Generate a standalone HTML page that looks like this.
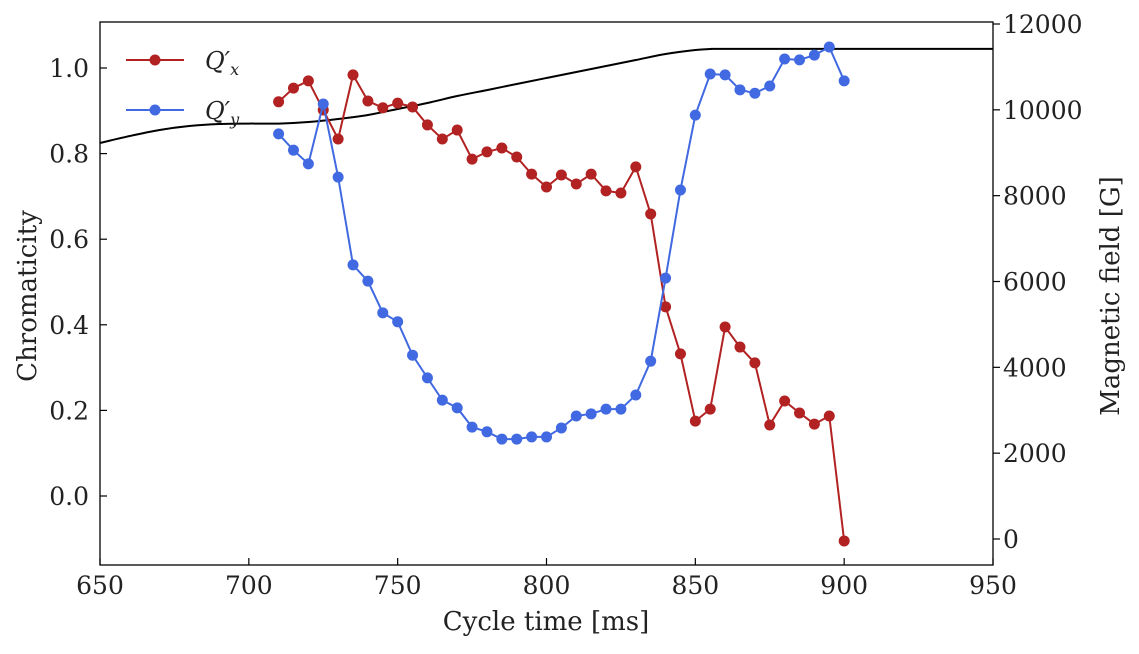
<!DOCTYPE html>
<html><head><meta charset="utf-8"><style>
body{margin:0;background:#fff}
svg text{font-family:"DejaVu Serif","Liberation Serif",serif;fill:#222}
</style></head><body>
<svg id="chart" width="1139" height="649" viewBox="0 0 1139 649" xmlns="http://www.w3.org/2000/svg">
<g id="marks"></g>
<g id="axes"></g>
</svg>
<script>
const times=[710,715,720,725,730,735,740,745,750,755,760,765,770,775,780,785,790,795,800,805,810,815,820,825,830,835,840,845,850,855,860,865,870,875,880,885,890,895,900];
const qx=[0.921,0.953,0.970,0.902,0.834,0.984,0.923,0.907,0.918,0.909,0.867,0.834,0.855,0.787,0.804,0.813,0.792,0.752,0.722,0.750,0.729,0.752,0.713,0.708,0.769,0.659,0.442,0.332,0.175,0.203,0.395,0.348,0.311,0.166,0.222,0.194,0.168,0.187,-0.105];
const qy=[0.846,0.808,0.776,0.916,0.745,0.540,0.502,0.428,0.407,0.329,0.276,0.224,0.206,0.161,0.150,0.133,0.133,0.138,0.138,0.159,0.187,0.192,0.203,0.203,0.236,0.315,0.509,0.715,0.890,0.986,0.984,0.949,0.941,0.958,1.021,1.019,1.030,1.049,0.970];
const fieldT=[650,660,670,680,690,700,710,720,730,740,750,760,770,780,790,800,810,820,830,840,850,855,860,900,950];
const fieldG=[9227,9390,9530,9623,9670,9680,9680,9716,9786,9880,10020,10160,10322,10460,10602,10742,10881,11021,11161,11301,11394,11417,11420,11420,11420];
const xTicks=[650,700,750,800,850,900,950];
const yTicks=[0.0,0.2,0.4,0.6,0.8,1.0];
const y2Ticks=[0,2000,4000,6000,8000,10000,12000];

const L=100,R=993,T=22,B=565;
const X=v=>L+(v-650)/300*(R-L);
const Y=v=>496-v*428;
const Y2=v=>539-v*515/12000;
const NS='http://www.w3.org/2000/svg';
function mk(tag,attrs,parent){const e=document.createElementNS(NS,tag);for(const k in attrs)e.setAttribute(k,attrs[k]);parent.appendChild(e);return e;}
const marks=document.getElementById('marks'),axes=document.getElementById('axes');

const fp=fieldT.map((t,i)=>[X(t),Y2(fieldG[i])]);
let d='M'+fp[0][0]+','+fp[0][1];
for(let i=0;i<fp.length-1;i++){
  const p0=fp[Math.max(0,i-1)],p1=fp[i],p2=fp[i+1],p3=fp[Math.min(fp.length-1,i+2)];
  const c1=[p1[0]+(p2[0]-p0[0])/6,p1[1]+(p2[1]-p0[1])/6];
  const c2=[p2[0]-(p3[0]-p1[0])/6,p2[1]-(p3[1]-p1[1])/6];
  d+=' C'+c1+' '+c2+' '+p2;
}
let fl=mk('path',{d:d,fill:'none',stroke:'#000','stroke-width':2},marks);



function series(vals,color,name){
  const g=mk('g',{},marks);
  
  
  mk('polyline',{points:times.map((t,i)=>X(t)+','+Y(vals[i])).join(' '),fill:'none',stroke:color,'stroke-width':2},g);
  times.forEach((t,i)=>{const c=mk('circle',{cx:X(t),cy:Y(vals[i]),r:5.5,fill:color},g);
    
    });
}
series(qx,'#b22222','qx');
series(qy,'#4169e1','qy');

mk('rect',{x:L,y:T,width:R-L,height:B-T,fill:'none',stroke:'#000','stroke-width':1.3},axes);
xTicks.forEach(v=>{const x=X(v);
  mk('line',{x1:x,x2:x,y1:B,y2:B-7,stroke:'#000','stroke-width':1.2},axes);
  const t=mk('text',{x:x,y:594,'font-size':25,'text-anchor':'middle'},axes);t.textContent=v;
  
  });
yTicks.forEach(v=>{const y=Y(v);
  mk('line',{x1:L,x2:L+7,y1:y,y2:y,stroke:'#000','stroke-width':1.2},axes);
  const t=mk('text',{x:89,y:y+9,'font-size':25,'text-anchor':'end'},axes);t.textContent=v.toFixed(1);
  
  });
y2Ticks.forEach(v=>{const y=Y2(v);
  mk('line',{x1:R,x2:R+7,y1:y,y2:y,stroke:'#000','stroke-width':1.2},axes);
  const t=mk('text',{x:1003,y:y+9,'font-size':25},axes);t.textContent=v;
  
  });
</script>
<svg style="position:absolute;left:0;top:0" width="1139" height="649">
<text x="546" y="630" font-size="26" text-anchor="middle">Cycle time [ms]</text>
<text transform="translate(36,296) rotate(-90)" font-size="26" text-anchor="middle">Chromaticity</text>
<text transform="translate(1119,296) rotate(-90)" font-size="26" text-anchor="middle">Magnetic field [G]</text>
<g>
<line x1="126" x2="184" y1="60" y2="60" stroke="#b22222" stroke-width="2"/><circle cx="155" cy="60" r="5.5" fill="#b22222"/>
<text x="205" y="69" font-size="24" font-style="italic">Q′<tspan font-size="16" dy="6">x</tspan></text></g>
<g>
<line x1="126" x2="184" y1="110" y2="110" stroke="#4169e1" stroke-width="2"/><circle cx="155" cy="110" r="5.5" fill="#4169e1"/>
<text x="205" y="119" font-size="24" font-style="italic">Q′<tspan font-size="16" dy="6">y</tspan></text></g>
</svg>
</body></html>
